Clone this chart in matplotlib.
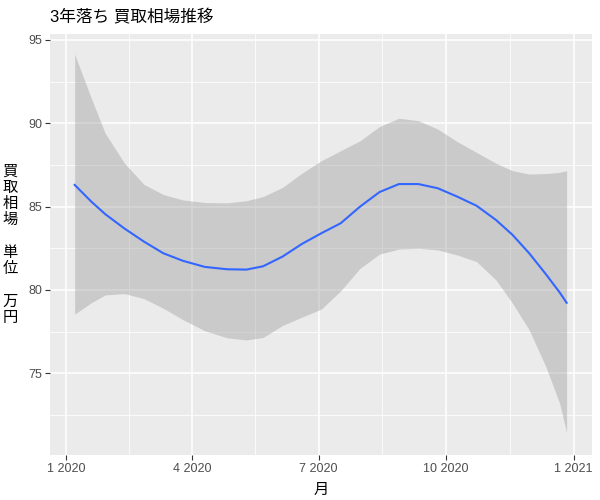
import numpy as np
import matplotlib
matplotlib.use("Agg")
import matplotlib.pyplot as plt
import matplotlib.dates as mdates

plt.rcParams['font.family'] = ['Liberation Sans', 'Noto Sans CJK JP']

# 平滑化した買取相場 (loess) と信頼区間
dates = ["2020-01-07", "2020-01-19", "2020-01-29", "2020-02-12", "2020-02-26",
         "2020-03-11", "2020-03-25", "2020-04-10", "2020-04-26", "2020-05-10",
         "2020-05-22", "2020-06-05", "2020-06-19", "2020-07-03", "2020-07-17",
         "2020-07-31", "2020-08-14", "2020-08-28", "2020-09-11", "2020-09-25",
         "2020-10-09", "2020-10-23", "2020-11-06", "2020-11-18", "2020-11-30",
         "2020-12-12", "2020-12-22", "2020-12-27"]
fit = [86.3, 85.3, 84.55, 83.68, 82.9, 82.2, 81.75, 81.38, 81.24, 81.22,
       81.42, 82.0, 82.76, 83.4, 84.0, 85.0, 85.87, 86.35, 86.35, 86.1,
       85.6, 85.05, 84.2, 83.3, 82.2, 80.95, 79.85, 79.23]
upper = [94.14, 91.5, 89.4, 87.6, 86.33, 85.72, 85.4, 85.24, 85.22, 85.35,
         85.6, 86.15, 87.0, 87.75, 88.35, 88.95, 89.8, 90.3, 90.15, 89.65,
         88.9, 88.25, 87.6, 87.15, 86.95, 86.98, 87.05, 87.15]
lower = [78.55, 79.23, 79.7, 79.78, 79.48, 78.9, 78.22, 77.55, 77.13, 77.0,
         77.15, 77.87, 78.37, 78.85, 79.95, 81.3, 82.15, 82.45, 82.5, 82.4,
         82.1, 81.7, 80.6, 79.2, 77.6, 75.4, 73.2, 71.44]

tick_dates = ["2020-01-01", "2020-04-01", "2020-07-01", "2020-10-01", "2021-01-01"]
tick_labels = ["1 2020", "4 2020", "7 2020", "10 2020", "1 2021"]

x = mdates.date2num(np.array(dates, dtype="datetime64[D]"))
xt = mdates.date2num(np.array(tick_dates, dtype="datetime64[D]"))

fig = plt.figure(figsize=(6, 5), dpi=100)
ax = fig.add_axes([0.0833, 0.09, 0.9033, 0.842])
ax.set_facecolor("#EBEBEB")

ax.fill_between(x, lower, upper, color="#999999", alpha=0.4, linewidth=0, zorder=3)
ax.plot(x, fit, color="#3366FF", linewidth=1.5, zorder=4)

ax.set_xlim(xt[0] - 11.8, xt[0] + 379.3)
ax.set_ylim(70.1, 95.35)

ax.set_xticks(xt)
ax.set_xticklabels(tick_labels)
ax.set_xticks((xt[:-1] + xt[1:]) / 2, minor=True)
ax.set_yticks([75, 80, 85, 90, 95])
ax.set_yticks([72.5, 77.5, 82.5, 87.5, 92.5], minor=True)

ax.grid(True, which="major", color="white", linewidth=1.1)
ax.grid(True, which="minor", color="white", linewidth=0.55)
ax.set_axisbelow(True)
for s in ax.spines.values():
    s.set_visible(False)

ax.tick_params(which="major", length=3.5, width=0.8, color="#333333",
               labelcolor="#4D4D4D", labelsize=9, pad=2)
ax.tick_params(which="minor", length=0)

ax.set_xlabel("月", fontsize=11, labelpad=6)
ax.set_ylabel("買\n取\n相\n場\n\n単\n位\n\n万\n円", fontsize=11, rotation=0,
              va="center", ha="center", labelpad=13, linespacing=1.2)
fig.text(0.0833, 0.966, "3年落ち 買取相場推移", fontsize=12, ha="left", va="center")

fig.savefig("out.png", dpi=100)
